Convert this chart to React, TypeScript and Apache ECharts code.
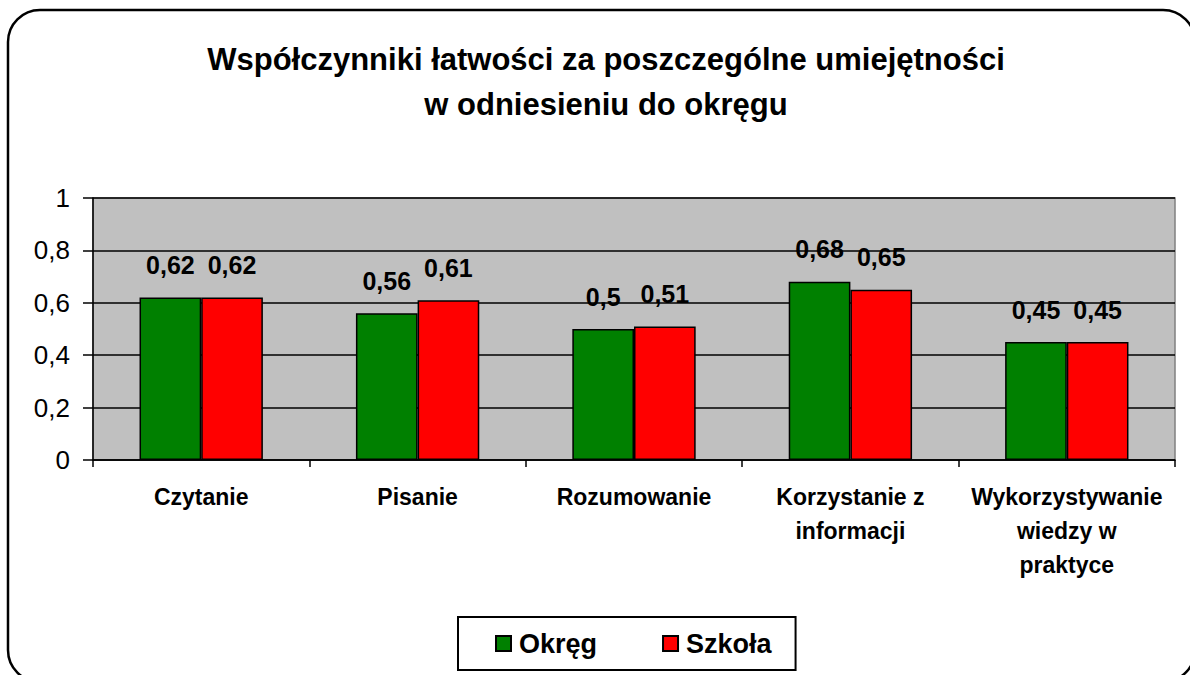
import React, { useEffect, useRef } from "react";
import * as echarts from "echarts";

const categories = [
  "Czytanie",
  "Pisanie",
  "Rozumowanie",
  "Korzystanie z informacji",
  "Wykorzystywanie wiedzy w praktyce",
];
const categoryLabelLines = [
  "Czytanie",
  "Pisanie",
  "Rozumowanie",
  "Korzystanie z\ninformacji",
  "Wykorzystywanie\nwiedzy w\npraktyce",
];
const okregValues = [0.62, 0.56, 0.5, 0.68, 0.45];
const szkolaValues = [0.62, 0.61, 0.51, 0.65, 0.45];
const titleLines = [
  "Współczynniki łatwości za poszczególne umiejętności",
  "w odniesieniu do okręgu",
];

const FONT = "'Liberation Sans', Arial, sans-serif";

const fmt = (v: number) => String(Math.round(v * 100) / 100).replace(".", ",");

export default function App() {
  const ref = useRef<HTMLDivElement>(null);
  useEffect(() => {
    document.body.style.margin = "0";
    const chart = echarts.init(ref.current!, undefined, { renderer: "svg" });
    const labelStyle = {
      show: true,
      position: "top" as const,
      distance: 20,
      fontFamily: FONT,
      fontWeight: "bold" as const,
      fontSize: 25,
      color: "#000",
      formatter: (p: any) => fmt(p.value),
    };
    chart.setOption({
      animation: false,
      backgroundColor: "#fff",
      textStyle: { fontFamily: FONT },
      title: {
        text: titleLines.join("\n"),
        left: 601,
        textAlign: "center",
        top: 32,
        textStyle: {
          fontFamily: FONT,
          fontWeight: "bold",
          fontSize: 31,
          lineHeight: 45,
          color: "#000",
        },
      },
      graphic: [
        {
          type: "rect",
          z: -10,
          shape: { x: 8, y: 10, width: 1187, height: 672, r: 32 },
          style: { fill: "none", stroke: "#000", lineWidth: 2.5 },
          silent: true,
        },
      ],
      legend: {
        left: 458,
        top: 617,
        orient: "horizontal",
        padding: [13, 24, 13, 37],
        itemGap: 65,
        itemWidth: 15,
        itemHeight: 15,
        icon: "rect",
        borderColor: "#000",
        borderWidth: 2,
        backgroundColor: "#fff",
        textStyle: {
          fontFamily: FONT,
          fontWeight: "bold",
          fontSize: 27,
          color: "#000",
          padding: [0, 0, 0, 3],
        },
        data: ["Okręg", "Szkoła"],
      },
      grid: {
        left: 93,
        right: 15,
        top: 198,
        bottom: 215,
        show: true,
        backgroundColor: "#C0C0C0",
        borderColor: "#808080",
        borderWidth: 1.5,
      },
      xAxis: {
        type: "category",
        data: categories,
        axisLine: { show: true, lineStyle: { color: "#000", width: 1.5 } },
        axisTick: { show: true, length: 7, lineStyle: { color: "#000", width: 1.5 } },
        axisLabel: {
          interval: 0,
          margin: 20,
          fontFamily: FONT,
          fontWeight: "bold",
          fontSize: 23,
          lineHeight: 34,
          color: "#000",
          formatter: (_v: string, i: number) => categoryLabelLines[i],
        },
      },
      yAxis: {
        type: "value",
        min: 0,
        max: 1,
        interval: 0.2,
        axisLine: { show: true, lineStyle: { color: "#000", width: 1.5 } },
        axisTick: { show: true, length: 10, lineStyle: { color: "#000", width: 1.5 } },
        splitLine: { show: true, lineStyle: { color: "#000", width: 1.5 } },
        axisLabel: {
          margin: 23,
          fontFamily: FONT,
          fontSize: 26,
          color: "#000",
          formatter: (v: number) => fmt(v),
        },
      },
      series: [
        {
          name: "Okręg",
          type: "bar",
          data: okregValues,
          barGap: "0%",
          barCategoryGap: "43%",
          itemStyle: { color: "#008000", borderColor: "#000", borderWidth: 1.5 },
          label: labelStyle,
        },
        {
          name: "Szkoła",
          type: "bar",
          data: szkolaValues,
          barGap: "0%",
          barCategoryGap: "43%",
          itemStyle: { color: "#FF0000", borderColor: "#000", borderWidth: 1.5 },
          label: labelStyle,
        },
      ],
    });
    return () => chart.dispose();
  }, []);
  return <div ref={ref} style={{ width: 1190, height: 675 }} />;
}
